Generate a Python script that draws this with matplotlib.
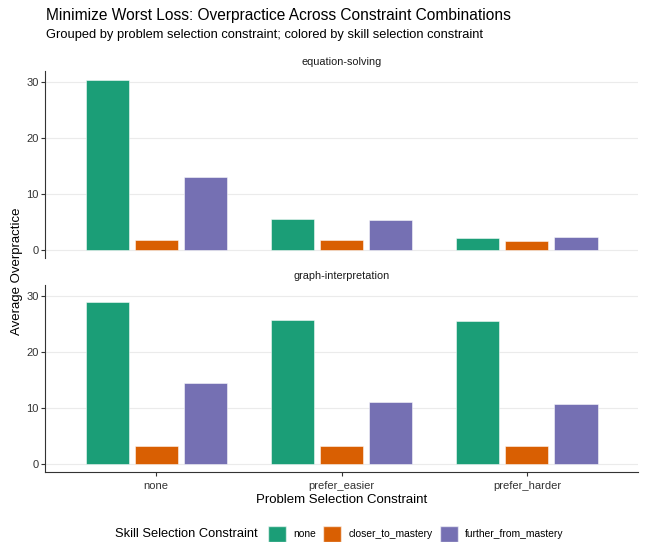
import matplotlib.pyplot as plt
import numpy as np
from matplotlib.patches import Patch

plt.rcParams['font.family'] = ['Liberation Sans', 'DejaVu Sans']

# datos
problem_constraints = ['none', 'prefer_easier', 'prefer_harder']
skill_constraints = ['none', 'closer_to_mastery', 'further_from_mastery']
paneles = ['equation-solving', 'graph-interpretation']

eq_none = [30.3, 5.4, 2.0]
eq_closer = [1.8, 1.7, 1.5]
eq_further = [12.9, 5.2, 2.2]

gr_none = [28.9, 25.7, 25.5]
gr_closer = [3.2, 3.2, 3.1]
gr_further = [14.5, 11.1, 10.7]

valores = {
    'equation-solving': [eq_none, eq_closer, eq_further],
    'graph-interpretation': [gr_none, gr_closer, gr_further],
}
colores = ['#1B9E77', '#D95F02', '#7570B3']

fig = plt.figure(figsize=(6.46, 5.42), dpi=100)
ax1 = fig.add_axes([0.0697, 0.524, 0.918, 0.345])
ax2 = fig.add_axes([0.0697, 0.129, 0.918, 0.345])

x = np.arange(len(problem_constraints))
offset = 0.265
ancho = 0.233

for ax, panel in zip([ax1, ax2], paneles):
    series = valores[panel]
    for i, (serie, color) in enumerate(zip(series, colores)):
        ax.bar(x + (i - 1) * offset, serie, width=ancho, color=color,
               edgecolor='#FFFFFF99', linewidth=0.6, zorder=3)
    ax.set_xlim(-0.6, 2.6)
    ax.set_ylim(-1.5, 31.9)
    ax.set_yticks([0, 10, 20, 30])
    ax.grid(axis='y', color='#EBEBEB', linewidth=0.8, zorder=0)
    ax.set_axisbelow(True)
    for s in ['top', 'right']:
        ax.spines[s].set_visible(False)
    ax.spines['left'].set_color('#333333')
    ax.spines['bottom'].set_color('#333333')
    ax.tick_params(axis='y', labelsize=8, colors='#333333', length=3,
                   pad=1.5, labelcolor='#333333')
    ax.text(0.5, 1.02, panel, transform=ax.transAxes, ha='center',
            va='bottom', fontsize=7.8, color='#1A1A1A')

ax1.spines['bottom'].set_visible(False)
ax1.set_xticks([])
ax2.set_xticks(x)
ax2.set_xticklabels(problem_constraints)
ax2.tick_params(axis='x', labelsize=8, length=3, colors='#333333')
ax2.set_xlabel('Problem Selection Constraint', fontsize=9.5, labelpad=2)

fig.text(0.026, 0.5, 'Average Overpractice', rotation=90, ha='center',
         va='center', fontsize=9.5)

fig.text(0.0705, 0.971, 'Minimize Worst Loss: Overpractice Across Constraint Combinations',
         fontsize=11.2, ha='left', va='center')
fig.text(0.0705, 0.935, 'Grouped by problem selection constraint; colored by skill selection constraint',
         fontsize=9.3, ha='left', va='center')

# leyenda abajo, titulo a la izquierda
fig.text(115 / 646, 1 - 534 / 542, 'Skill Selection Constraint', fontsize=9.3,
         ha='left', va='center')
handles = [Patch(facecolor=c, edgecolor='#FFFFFF99') for c in colores]
fig.legend(handles, skill_constraints, loc='center left',
           bbox_to_anchor=(268 / 646, 1 - 534 / 542), ncol=3, frameon=False,
           fontsize=7.4, handlelength=1.75, handleheight=2.1,
           columnspacing=0.7, handletextpad=0.7, borderpad=0,
           borderaxespad=0)

fig.savefig('out.png', dpi=100)
